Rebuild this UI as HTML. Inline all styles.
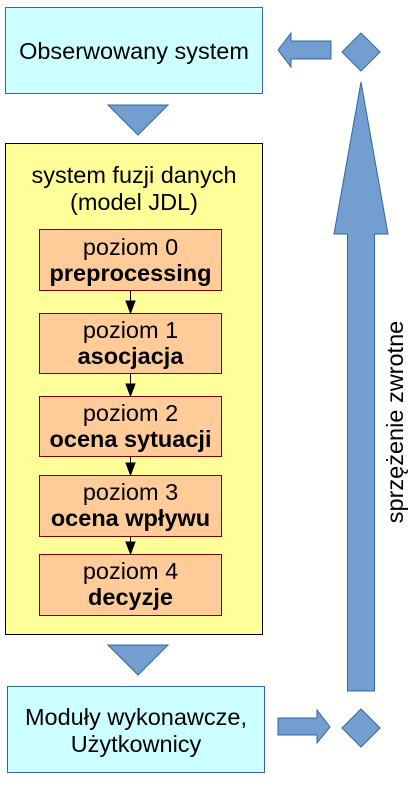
<!DOCTYPE html>
<html><head><meta charset="utf-8"><style>
html,body{margin:0;padding:0;background:#fff;width:411px;height:786px;overflow:hidden}
svg{display:block}
text{font-family:"Liberation Sans",sans-serif;font-size:23.5px;fill:#000}
</style></head><body>
<svg width="411" height="786" viewBox="0 0 411 786" xmlns="http://www.w3.org/2000/svg">
<g stroke="#3465a4" stroke-width="1" fill="#729fcf">
<rect x="5.5" y="7.5" width="257" height="86" fill="#ccffff"/>
<rect x="7.5" y="686.5" width="257" height="86" fill="#ccffff"/>
<polygon points="278,50 291,33 291,41 331,41 331,59 291,59 291,67"/>
<polygon points="361,33 380,52 361,71 342,52"/>
<polygon points="108,105 168,105 138,135"/>
<polygon points="108,645 168,645 138,675"/>
<polygon points="278,718 317,718 317,710 330,727 317,743 317,735 278,735"/>
<polygon points="361,709 380,728 361,747 342,728"/>
<polygon points="361,82 388,234 374.5,234 374.5,691 347.5,691 347.5,234 334,234"/>
</g>
<rect x="5.5" y="143.5" width="257" height="491" fill="#ffff99" stroke="#000"/>
<g fill="#ffcc99" stroke="#800000">
<rect x="39.5" y="229.5" width="182" height="61"/>
<rect x="39.5" y="313.5" width="182" height="60"/>
<rect x="39.5" y="396.5" width="182" height="60"/>
<rect x="39.5" y="475.5" width="182" height="61"/>
<rect x="39.5" y="554.5" width="182" height="61"/>
</g>
<g stroke="#000" fill="#000">
<line x1="130.5" y1="291" x2="130.5" y2="302"/><polygon points="126,301 135,301 130.5,313"/>
<line x1="130.5" y1="374" x2="130.5" y2="385"/><polygon points="126,384 135,384 130.5,396"/>
<line x1="130.5" y1="457" x2="130.5" y2="464"/><polygon points="126,463 135,463 130.5,475"/>
<line x1="130.5" y1="537" x2="130.5" y2="543"/><polygon points="126,542 135,542 130.5,554"/>
</g>
<g text-anchor="middle">
<text x="134" y="59">Obserwowany system</text>
<text x="134" y="183">system fuzji danych</text>
<text x="134" y="210">(model JDL)</text>
<text x="130.5" y="255">poziom 0</text>
<text x="130.5" y="281" font-weight="bold">preprocessing</text>
<text x="130.5" y="338">poziom 1</text>
<text x="130.5" y="364" font-weight="bold">asocjacja</text>
<text x="130.5" y="421">poziom 2</text>
<text x="130.5" y="447" font-weight="bold">ocena sytuacji</text>
<text x="130.5" y="500">poziom 3</text>
<text x="130.5" y="526" font-weight="bold">ocena wpływu</text>
<text x="130.5" y="579">poziom 4</text>
<text x="130.5" y="605" font-weight="bold">decyzje</text>
<text x="136" y="725">Moduły wykonawcze,</text>
<text x="136" y="752">Użytkownicy</text>
<text transform="translate(403,422) rotate(-90)">sprzężenie zwrotne</text>
</g>
</svg>
</body></html>
